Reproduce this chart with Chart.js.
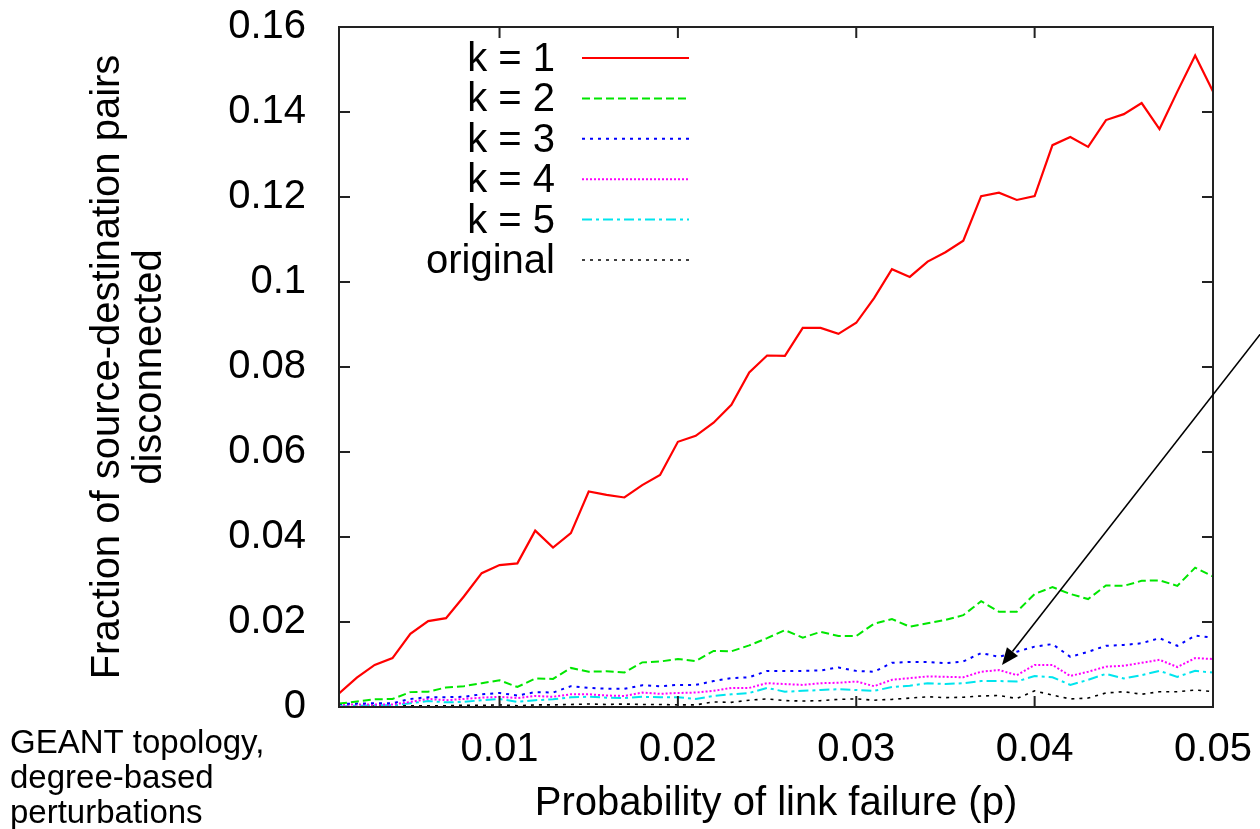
<!DOCTYPE html>
<html>
<head>
<meta charset="utf-8">
<script src="https://cdn.jsdelivr.net/npm/chart.js@4.4.1/dist/chart.umd.min.js"></script>
<style>
    body { margin: 0; background: #fff; }
    #wrap { position: relative; width: 1260px; height: 829px; }
</style>
</head>
<body>
<div id="wrap"><canvas id="chart"></canvas></div>
<script>
// probability of link failure
let pVals = [
    0.001, 0.002, 0.003, 0.004, 0.005, 0.006, 0.007, 0.008, 0.009, 0.010,
    0.011, 0.012, 0.013, 0.014, 0.015, 0.016, 0.017, 0.018, 0.019, 0.020,
    0.021, 0.022, 0.023, 0.024, 0.025, 0.026, 0.027, 0.028, 0.029, 0.030,
    0.031, 0.032, 0.033, 0.034, 0.035, 0.036, 0.037, 0.038, 0.039, 0.040,
    0.041, 0.042, 0.043, 0.044, 0.045, 0.046, 0.047, 0.048, 0.049, 0.050
];

let k1 = [
    0.0032, 0.0069, 0.0099, 0.0115, 0.0172, 0.0202, 0.0209, 0.0260, 0.0315, 0.0334,
    0.0338, 0.0415, 0.0375, 0.0409, 0.0507, 0.0499, 0.0493, 0.0522, 0.0546, 0.0624,
    0.0638, 0.0669, 0.0711, 0.0787, 0.0827, 0.0826, 0.0892, 0.0892, 0.0878, 0.0904,
    0.0962, 0.1030, 0.1012, 0.1048, 0.1070, 0.1097, 0.1202, 0.1210, 0.1193, 0.1202,
    0.1322, 0.1341, 0.1318, 0.1381, 0.1395, 0.1421, 0.1360, 0.1448, 0.1533, 0.1448
];
let k2 = [
    0.0008, 0.0013, 0.0018, 0.0019, 0.0035, 0.0036, 0.0046, 0.0049, 0.0056, 0.0063,
    0.0047, 0.0067, 0.0066, 0.0092, 0.0083, 0.0084, 0.0081, 0.0105, 0.0107, 0.0113,
    0.0108, 0.0132, 0.0131, 0.0145, 0.0162, 0.0181, 0.0163, 0.0177, 0.0167, 0.0167,
    0.0196, 0.0207, 0.0189, 0.0197, 0.0205, 0.0216, 0.0249, 0.0224, 0.0224, 0.0266,
    0.0282, 0.0266, 0.0254, 0.0286, 0.0285, 0.0297, 0.0298, 0.0285, 0.0328, 0.0307
];
let k3 = [
    0.0007, 0.0008, 0.0009, 0.0009, 0.0019, 0.0023, 0.0023, 0.0024, 0.0030, 0.0033,
    0.0027, 0.0035, 0.0034, 0.0049, 0.0045, 0.0043, 0.0043, 0.0051, 0.0049, 0.0052,
    0.0052, 0.0061, 0.0068, 0.0070, 0.0085, 0.0085, 0.0085, 0.0086, 0.0093, 0.0085,
    0.0083, 0.0104, 0.0106, 0.0106, 0.0103, 0.0107, 0.0127, 0.0118, 0.0130, 0.0142,
    0.0148, 0.0118, 0.0130, 0.0144, 0.0146, 0.0150, 0.0162, 0.0144, 0.0168, 0.0163
];
let k4 = [
    0.0005, 0.0006, 0.0006, 0.0006, 0.0012, 0.0019, 0.0016, 0.0019, 0.0022, 0.0024,
    0.0021, 0.0026, 0.0024, 0.0030, 0.0030, 0.0027, 0.0026, 0.0034, 0.0031, 0.0033,
    0.0034, 0.0038, 0.0045, 0.0045, 0.0056, 0.0054, 0.0052, 0.0056, 0.0057, 0.0060,
    0.0049, 0.0064, 0.0068, 0.0072, 0.0071, 0.0070, 0.0083, 0.0087, 0.0075, 0.0099,
    0.0099, 0.0073, 0.0083, 0.0095, 0.0097, 0.0104, 0.0111, 0.0094, 0.0115, 0.0113
];
let k5 = [
    0.0002, 0.0003, 0.0004, 0.0004, 0.0009, 0.0014, 0.0011, 0.0012, 0.0016, 0.0019,
    0.0012, 0.0016, 0.0018, 0.0023, 0.0024, 0.0022, 0.0021, 0.0024, 0.0023, 0.0023,
    0.0019, 0.0026, 0.0030, 0.0033, 0.0045, 0.0036, 0.0038, 0.0040, 0.0042, 0.0040,
    0.0038, 0.0047, 0.0050, 0.0056, 0.0054, 0.0056, 0.0061, 0.0061, 0.0060, 0.0073,
    0.0070, 0.0052, 0.0064, 0.0078, 0.0067, 0.0075, 0.0085, 0.0071, 0.0085, 0.0081
];
let original = [
    0.0001, 0.0001, 0.0002, 0.0002, 0.0003, 0.0003, 0.0003, 0.0004, 0.0004, 0.0005,
    0.0003, 0.0005, 0.0005, 0.0006, 0.0007, 0.0006, 0.0007, 0.0006, 0.0006, 0.0005,
    0.0005, 0.0012, 0.0011, 0.0016, 0.0019, 0.0015, 0.0014, 0.0015, 0.0018, 0.0019,
    0.0016, 0.0018, 0.0021, 0.0024, 0.0022, 0.0023, 0.0026, 0.0027, 0.0020, 0.0038,
    0.0028, 0.0019, 0.0021, 0.0033, 0.0036, 0.0030, 0.0036, 0.0036, 0.0040, 0.0036
];

let xTicks = [0.01, 0.02, 0.03, 0.04, 0.05];
let yTicks = [0, 0.02, 0.04, 0.06, 0.08, 0.1, 0.12, 0.14, 0.16];
let noteLines = ["GEANT topology,", "degree-based", "perturbations"];

const FONT = "'Liberation Sans', Arial, Helvetica, sans-serif";

function pts(ys) {
    return pVals.map((p, i) => ({x: p, y: ys[i]}));
}

function series(label, ys, color, dash, width) {
    return {
        label: label,
        data: pts(ys),
        borderColor: color,
        borderDash: dash,
        borderWidth: width,
        pointRadius: 0,
        fill: false,
        tension: 0
    };
}

// keep tick labels from pushing the plot area around
function noPad(s) {
    s.paddingTop = 0;
    s.paddingBottom = 0;
    s.paddingLeft = 0;
    s.paddingRight = 0;
}

// gnuplot-ish frame with inward ticks on all four sides
const frame = {
    id: "frame",
    afterDatasetsDraw(chart) {
        let ctx = chart.ctx;
        let a = chart.chartArea;
        let tl = 11;
        ctx.save();
        ctx.strokeStyle = "#222";
        ctx.lineWidth = 2;
        ctx.beginPath();
        for (let v of xTicks) {
            let px = chart.scales.x.getPixelForValue(v);
            ctx.moveTo(px, a.bottom); ctx.lineTo(px, a.bottom - tl);
            ctx.moveTo(px, a.top); ctx.lineTo(px, a.top + tl);
        }
        for (let v of yTicks) {
            let py = chart.scales.y.getPixelForValue(v);
            ctx.moveTo(a.left, py); ctx.lineTo(a.left + tl, py);
            ctx.moveTo(a.right, py); ctx.lineTo(a.right - tl, py);
        }
        ctx.stroke();
        ctx.strokeRect(a.left, a.top, a.right - a.left, a.bottom - a.top);
        ctx.restore();
    }
};

// legend: right-aligned text, line sample to its right
const keyBox = {
    id: "keyBox",
    afterDatasetsDraw(chart) {
        let ctx = chart.ctx;
        ctx.save();
        ctx.font = "40px " + FONT;
        ctx.textAlign = "right";
        ctx.textBaseline = "middle";
        chart.data.datasets.forEach((ds, i) => {
            let y = 58 + i * 40.4;
            ctx.fillStyle = "#000";
            ctx.fillText(ds.label, 555, y + 2);
            ctx.strokeStyle = ds.borderColor;
            ctx.lineWidth = ds.borderWidth;
            ctx.setLineDash(ds.borderDash);
            ctx.beginPath();
            ctx.moveTo(582, y);
            ctx.lineTo(689, y);
            ctx.stroke();
        });
        ctx.restore();
    }
};

// arrow and side note
const notes = {
    id: "notes",
    afterDraw(chart) {
        let ctx = chart.ctx;
        ctx.save();
        let x0 = 1262, y0 = 332, x1 = 1002, y1 = 665;
        let ang = Math.atan2(y1 - y0, x1 - x0);
        let hl = 17, hw = 7;
        let bx = x1 - hl * Math.cos(ang), by = y1 - hl * Math.sin(ang);
        ctx.strokeStyle = "#000";
        ctx.lineWidth = 1.6;
        ctx.beginPath();
        ctx.moveTo(x0, y0);
        ctx.lineTo(bx, by);
        ctx.stroke();
        ctx.fillStyle = "#000";
        ctx.beginPath();
        ctx.moveTo(x1, y1);
        ctx.lineTo(bx + hw * Math.sin(ang), by - hw * Math.cos(ang));
        ctx.lineTo(bx - hw * Math.sin(ang), by + hw * Math.cos(ang));
        ctx.closePath();
        ctx.fill();

        ctx.font = "33px " + FONT;
        ctx.textAlign = "left";
        ctx.textBaseline = "middle";
        noteLines.forEach((t, i) => ctx.fillText(t, 10, 744 + i * 35));
        ctx.restore();
    }
};

new Chart("chart", {
    type: "line",
    data: {
        datasets: [
            series("k = 1", k1, "#ff0000", [], 2.2),
            series("k = 2", k2, "#00e600", [8, 4], 2),
            series("k = 3", k3, "#0000ff", [3, 5], 2),
            series("k = 4", k4, "#ff00ff", [2, 2], 2),
            series("k = 5", k5, "#00e5ee", [10, 4, 3, 4], 2),
            series("original", original, "#000000", [3, 5], 1.6)
        ]
    },
    options: {
        responsive: true,
        maintainAspectRatio: false,
        animation: false,
        layout: {padding: {top: 27, right: 47, left: 0, bottom: 0}},
        plugins: {
            legend: {display: false},
            tooltip: {enabled: false}
        },
        scales: {
            x: {
                type: "linear",
                min: 0.001,
                max: 0.05,
                afterBuildTicks: s => { s.ticks = xTicks.map(v => ({value: v})); },
                afterFit: s => { s.height = 122; noPad(s); },
                grid: {display: false},
                border: {display: false},
                ticks: {
                    color: "#000",
                    font: {family: FONT, size: 40},
                    padding: 11,
                    maxRotation: 0,
                    callback: v => String(+v.toFixed(3))
                },
                title: {
                    display: true,
                    text: "Probability of link failure (p)",
                    color: "#000",
                    font: {family: FONT, size: 40, lineHeight: 1.05},
                    padding: {top: 0, bottom: 4}
                }
            },
            y: {
                min: 0,
                max: 0.16,
                afterBuildTicks: s => { s.ticks = yTicks.map(v => ({value: v})); },
                afterFit: s => { s.width = 339; noPad(s); },
                grid: {display: false},
                border: {display: false},
                ticks: {
                    color: "#000",
                    font: {family: FONT, size: 40},
                    padding: 25,
                    callback: v => String(+v.toFixed(2))
                },
                title: {
                    display: true,
                    text: ["Fraction of source-destination pairs", "disconnected"],
                    color: "#000",
                    font: {family: FONT, size: 40, lineHeight: 1.05},
                    padding: {top: 87, bottom: 0}
                }
            }
        }
    },
    plugins: [frame, keyBox, notes]
});
</script>
</body>
</html>
